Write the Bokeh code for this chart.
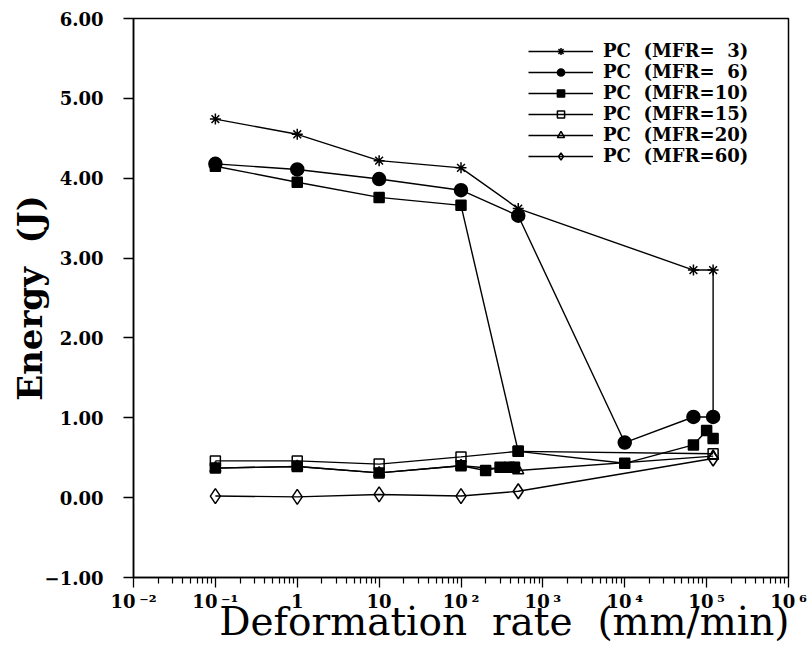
from bokeh.plotting import figure
from bokeh.models import (Range1d, FixedTicker, CustomJSTickFormatter, Legend,
                          LegendItem)
from bokeh.embed import file_html
from bokeh.resources import INLINE

# ---------------- data ----------------
mfr3_x = [0.1, 1, 10, 100, 500, 6.9e4, 1.2e5, 1.2e5]
mfr3_y = [4.74, 4.55, 4.22, 4.13, 3.62, 2.85, 2.85, 1.01]

mfr6_x = [0.1, 1, 10, 100, 500, 1e4, 6.9e4, 1.2e5]
mfr6_y = [4.18, 4.11, 3.99, 3.85, 3.53, 0.69, 1.01, 1.01]

mfr10_x = [0.1, 1, 10, 100, 500, 1e4, 6.9e4, 1e5, 1.2e5]
mfr10_y = [4.15, 3.95, 3.76, 3.66, 0.58, 0.43, 0.66, 0.84, 0.74]

mfr10_low_x = [0.1, 1, 10, 100, 200, 300, 390, 450]
mfr10_low_y = [0.37, 0.39, 0.31, 0.40, 0.34, 0.38, 0.38, 0.38]

mfr15_x = [0.1, 1, 10, 100, 500, 1.2e5]
mfr15_y = [0.46, 0.46, 0.42, 0.51, 0.58, 0.55]

mfr20_x = [0.1, 1, 10, 100, 500, 1.2e5]
mfr20_y = [0.37, 0.39, 0.31, 0.40, 0.34, 0.52]

mfr60_x = [0.1, 1, 10, 100, 500, 1.2e5]
mfr60_y = [0.02, 0.01, 0.04, 0.02, 0.08, 0.49]

legend_labels = ["PC\u00a0\u00a0(MFR=\u20073)", "PC\u00a0\u00a0(MFR=\u20076)",
                 "PC\u00a0\u00a0(MFR=10)", "PC\u00a0\u00a0(MFR=15)",
                 "PC\u00a0\u00a0(MFR=20)", "PC\u00a0\u00a0(MFR=60)"]

x_ticks = [1e-2, 1e-1, 1, 10, 1e2, 1e3, 1e4, 1e5, 1e6]
x_tick_labels = ["10\u2009\u207b\u00b2", "10\u2009\u207b\u00b9", "1", "10",
                 "10\u2009\u00b2", "10\u2009\u00b3", "10\u2009\u2074",
                 "10\u2009\u2075", "10\u2009\u2076"]
x_minor_ticks = [m * d for d in x_ticks[:-1] for m in range(2, 10)]
y_ticks = [-1, 0, 1, 2, 3, 4, 5, 6]

# non-breaking spaces keep the wide word gaps; the leading ones shift the
# centred label to the right, as in the reference
x_title = "\u00a0" * 7 + "Deformation\u00a0\u00a0rate\u00a0\u00a0(mm/min)"
y_title = "Energy\u00a0\u00a0(J)"

SERIF = "DejaVu Serif"

# ---------------- figure ----------------
p = figure(width=809, height=646, x_axis_type="log",
           x_range=Range1d(1e-2, 1e6), y_range=Range1d(-1, 6),
           output_backend="svg", toolbar_location=None,
           min_border_left=133, min_border_right=21,
           min_border_top=18, min_border_bottom=69)
p.grid.visible = False
p.outline_line_color = "black"
p.outline_line_width = 1.5
p.background_fill_color = "white"
p.border_fill_color = "white"

# x axis
xa = p.xaxis[0]
xa.ticker = FixedTicker(ticks=x_ticks, minor_ticks=x_minor_ticks)
xa.formatter = CustomJSTickFormatter(args=dict(tvals=x_ticks, tlabels=x_tick_labels), code="""
    let best = 0, bd = 1e99;
    for (let i = 0; i < tvals.length; i++) {
        const d = Math.abs(Math.log10(tvals[i]) - Math.log10(tick));
        if (d < bd) { bd = d; best = i; }
    }
    return tlabels[best];
""")
xa.axis_line_width = 1.5
xa.major_tick_out = 10
xa.major_tick_in = 0
xa.minor_tick_out = 6
xa.minor_tick_in = 0
xa.major_tick_line_width = 1.3
xa.minor_tick_line_width = 1.2
xa.major_label_standoff = 3
xa.major_label_text_font = SERIF
xa.major_label_text_font_style = "bold"
xa.major_label_text_font_size = "18px"
xa.major_label_text_color = "black"
xa.axis_label = x_title
xa.axis_label_text_font = SERIF
xa.axis_label_text_font_style = "normal"
xa.axis_label_text_font_size = "39px"
xa.axis_label_text_color = "black"
xa.axis_label_standoff = -16

# y axis
ya = p.yaxis[0]
ya.ticker = FixedTicker(ticks=y_ticks, minor_ticks=[])
ya.formatter = CustomJSTickFormatter(code="""
    return (tick < 0 ? "\\u2212" : "") + Math.abs(tick).toFixed(2);
""")
ya.axis_line_width = 1.5
ya.major_tick_out = 10
ya.major_tick_in = 0
ya.minor_tick_out = 0
ya.minor_tick_in = 0
ya.major_tick_line_width = 1.3
ya.major_label_standoff = 20
ya.major_label_text_font = SERIF
ya.major_label_text_font_style = "bold"
ya.major_label_text_font_size = "18px"
ya.major_label_text_color = "black"
ya.axis_label = y_title
ya.axis_label_text_font = SERIF
ya.axis_label_text_font_style = "bold"
ya.axis_label_text_font_size = "34px"
ya.axis_label_text_color = "black"
ya.axis_label_standoff = -8

LW = 1.4

def series(xs, ys, marker, size, filled):
    ln = p.line(xs, ys, line_color="black", line_width=LW)
    sc = p.scatter(xs, ys, marker=marker, size=size, line_color="black",
                   line_width=1.5, fill_color="black",
                   fill_alpha=1.0 if filled else 0.0)
    return [ln, sc]

r20 = series(mfr20_x, mfr20_y, "triangle", 11, False)
r60 = series(mfr60_x, mfr60_y, "diamond", 15, False)
r15 = series(mfr15_x, mfr15_y, "square", 10, False)
r3 = series(mfr3_x, mfr3_y, "asterisk", 11, False)
r10b = series(mfr10_low_x, mfr10_low_y, "square", 10, True)
r10 = series(mfr10_x, mfr10_y, "square", 10, True)
r6 = series(mfr6_x, mfr6_y, "circle", 13, True)

items = [LegendItem(label=lab, renderers=rr) for lab, rr in
         zip(legend_labels, [r3, r6, r10, r15, r20, r60])]
legend = Legend(items=items, location=(395, 411), padding=0, margin=0,
                border_line_color=None, background_fill_alpha=0.0,
                glyph_width=65, glyph_height=18, label_height=18,
                spacing=-4, label_standoff=10,
                label_text_font=SERIF, label_text_font_style="bold",
                label_text_font_size="18px", label_text_color="black")
p.add_layout(legend)

open("out.html", "w").write(file_html(p, INLINE))
